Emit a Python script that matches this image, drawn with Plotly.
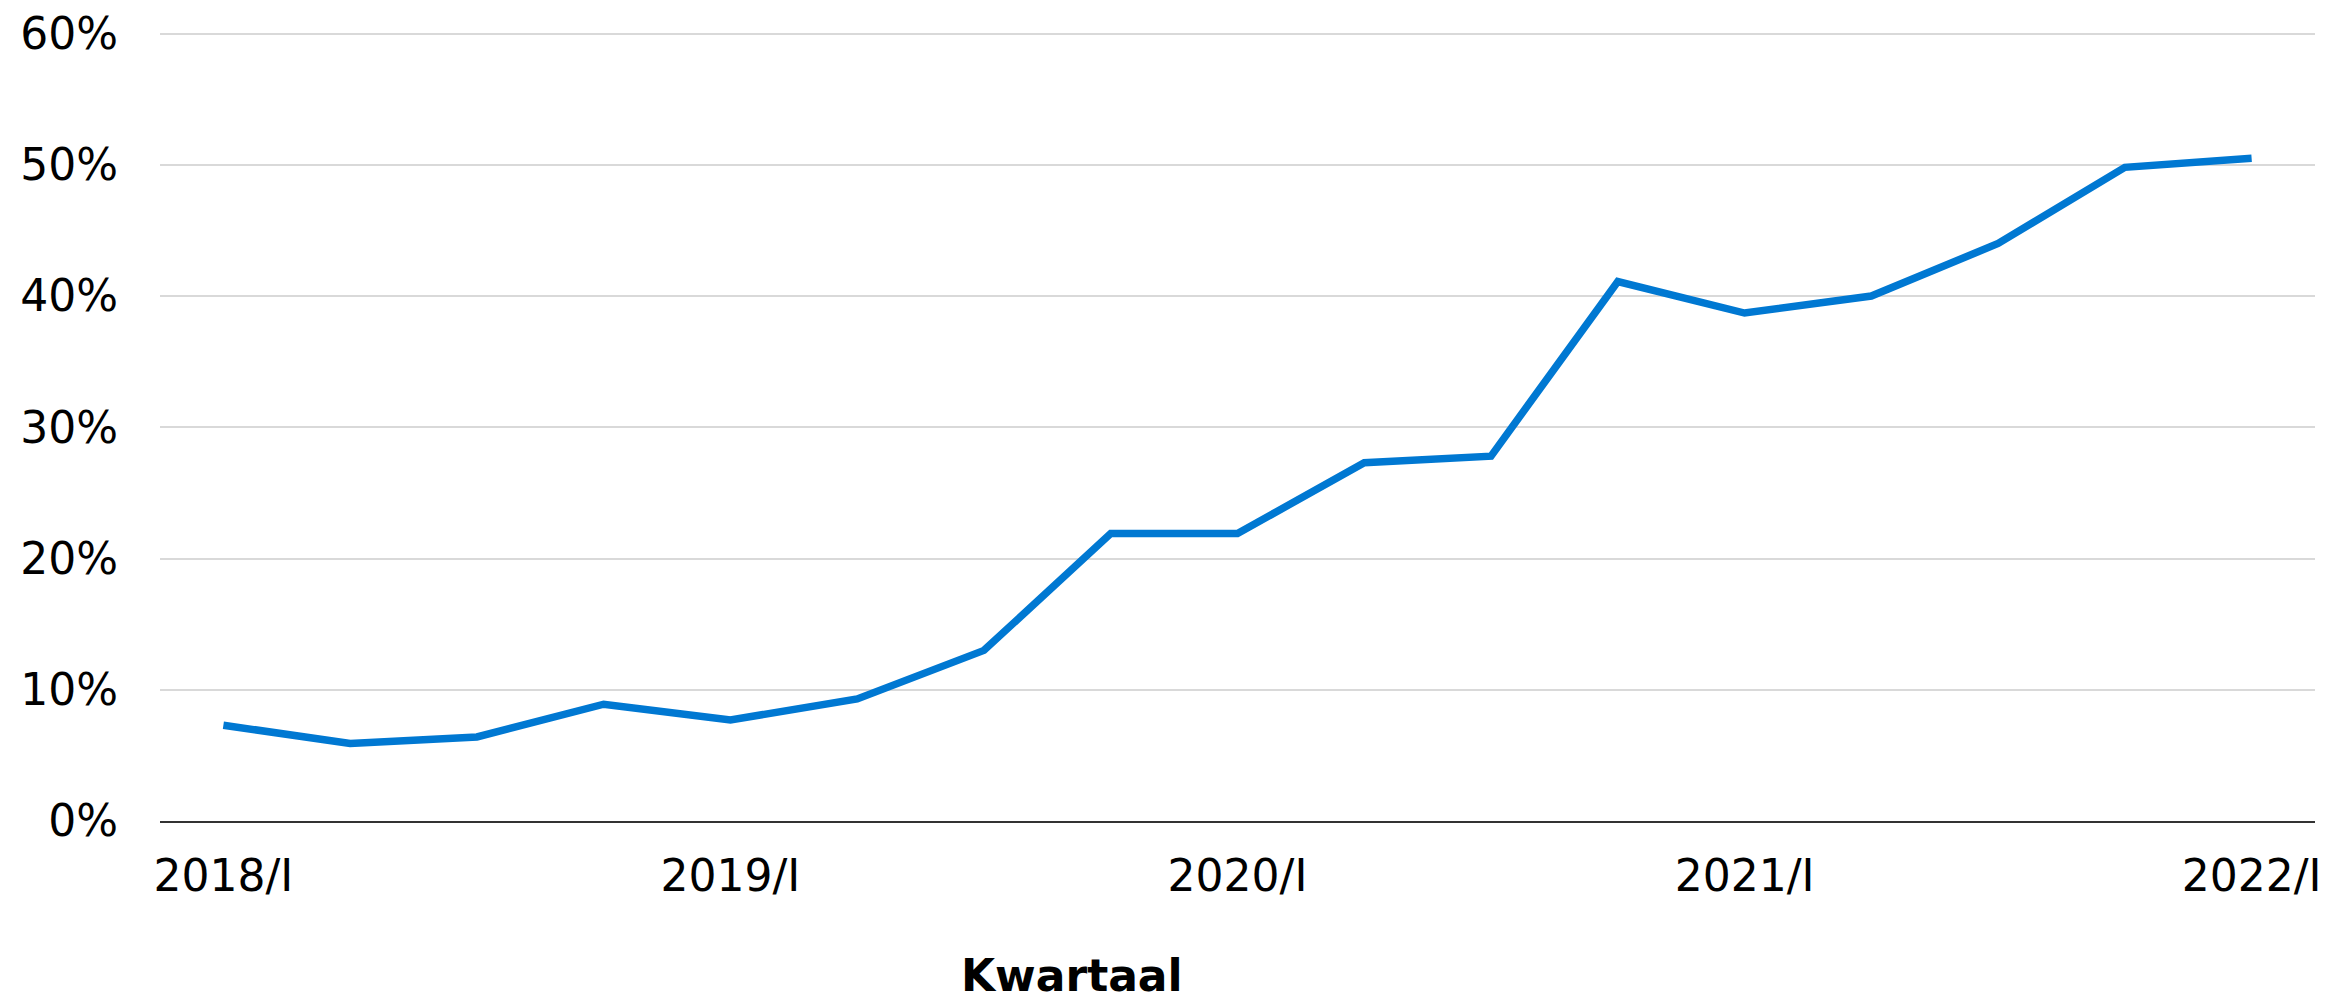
import plotly.graph_objects as go

quarters = ["2018/I", "2018/II", "2018/III", "2018/IV",
            "2019/I", "2019/II", "2019/III", "2019/IV",
            "2020/I", "2020/II", "2020/III", "2020/IV",
            "2021/I", "2021/II", "2021/III", "2021/IV",
            "2022/I"]
share_pct = [7.3, 5.9, 6.4, 8.9, 7.7, 9.3, 13.0, 21.9, 21.9,
             27.3, 27.8, 41.1, 38.7, 40.0, 44.0, 49.8, 50.5]
tick_labels = ["2018/I", "2019/I", "2020/I", "2021/I", "2022/I"]
y_ticks = [0, 10, 20, 30, 40, 50, 60]
x_title = "Kwartaal"

FONT = "Verdana, DejaVu Sans, sans-serif"
FS = 44

PLOT_H = 796
Y_TOP = PLOT_H / 13.125  # keeps 60% gridline just inside the plot area

fig = go.Figure()
fig.add_trace(go.Scatter(
    x=quarters, y=share_pct, mode="lines",
    line=dict(color="#0078d2", width=7.5),
    hoverinfo="x+y", showlegend=False,
))

fig.update_layout(
    width=2331, height=1000, autosize=False,
    margin=dict(l=160, r=16, t=1000 - 179 - PLOT_H, b=179, autoexpand=False),
    plot_bgcolor="white", paper_bgcolor="white",
    font=dict(family=FONT, size=FS, color="#000000"),
    xaxis=dict(
        type="category", categoryorder="array", categoryarray=quarters,
        range=[-0.5, len(quarters) - 0.5], automargin=False,
        tickvals=tick_labels, ticktext=tick_labels,
        showgrid=False, zeroline=False,
        showline=True, linecolor="#333333", linewidth=1.5,
        ticks="", ticklabelstandoff=15,
        tickfont=dict(family=FONT, size=FS, color="#000000"),
    ),
    yaxis=dict(
        range=[0, Y_TOP], tickvals=y_ticks, automargin=False,
        ticktext=[f"{v}%" for v in y_ticks],
        showgrid=True, gridcolor="#d9d9d9", gridwidth=1.5,
        zeroline=False, showline=False,
        ticks="", ticklabelstandoff=41,
        tickfont=dict(family=FONT, size=FS, color="#000000"),
    ),
    annotations=[dict(
        text=f"<b>{x_title}</b>", xref="paper", yref="paper",
        x=(1072 - 160) / 2155, y=(821 - 975) / PLOT_H,
        xanchor="center", yanchor="middle",
        showarrow=False, font=dict(family=FONT, size=FS, color="#000000"),
    )],
)

fig.write_html(
    "out.html",
    config={"displayModeBar": False},
    post_script="document.body.style.margin='0';document.body.style.overflow='hidden';",
)
